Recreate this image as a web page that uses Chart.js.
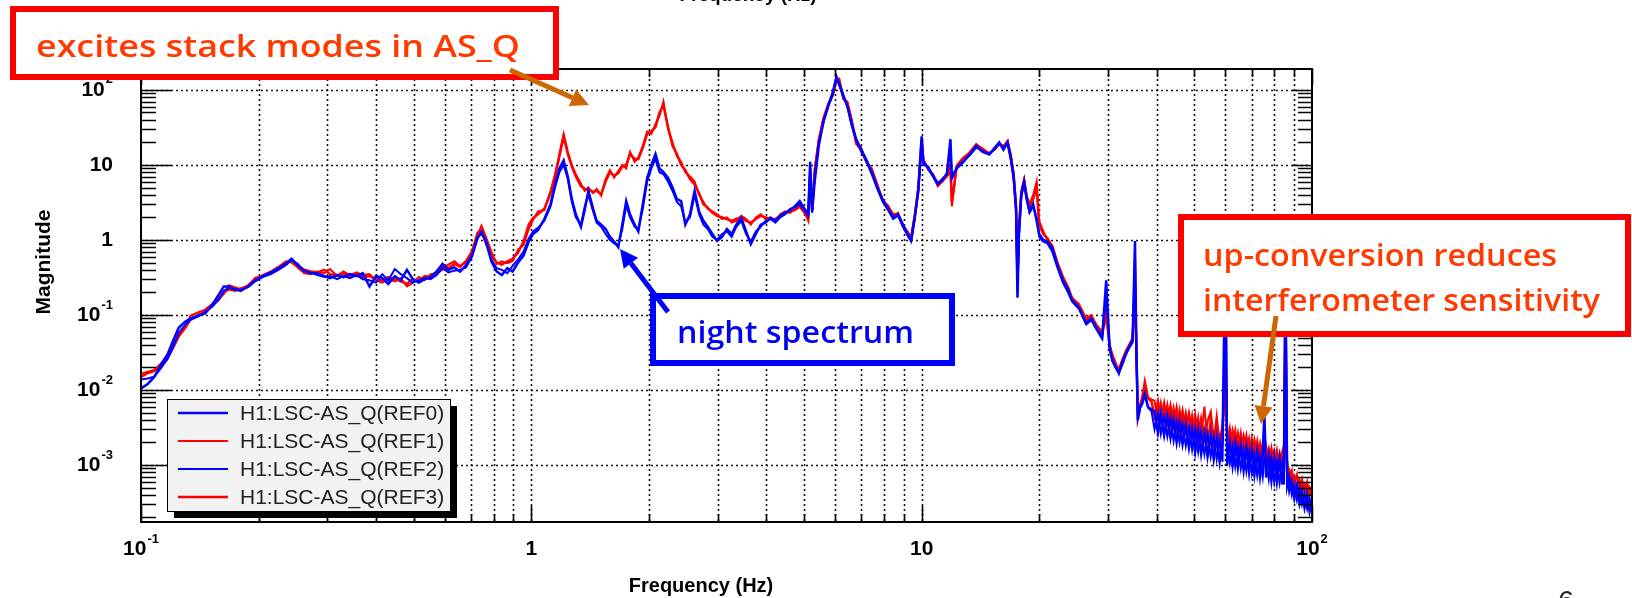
<!DOCTYPE html>
<html>
<head>
<meta charset="utf-8">
<script src="https://cdn.jsdelivr.net/npm/chart.js@4.4.0/dist/chart.umd.min.js"></script>
<style>
  html, body { margin: 0; padding: 0; background: #fff; }
  canvas { display: block; }
</style>
</head>
<body>
<canvas id="spectrum" width="1632" height="598"></canvas>
<script>
// frequency grid (Hz), shared by the four reference traces
const freqHz = [
  0.100, 0.104, 0.108, 0.112, 0.117, 0.121, 0.125, 0.130, 0.134, 0.140,
  0.146, 0.152, 0.158, 0.163, 0.168, 0.174, 0.180, 0.188, 0.196, 0.205,
  0.215, 0.225, 0.235, 0.243, 0.252, 0.262, 0.272, 0.283, 0.295, 0.305,
  0.318, 0.330, 0.343, 0.357, 0.370, 0.385, 0.400, 0.415, 0.430, 0.447,
  0.463, 0.480, 0.497, 0.515, 0.533, 0.552, 0.572, 0.592, 0.613, 0.635,
  0.657, 0.680, 0.705, 0.728, 0.745, 0.765, 0.790, 0.815, 0.840, 0.868,
  0.895, 0.925, 0.955, 0.985,
  1.01, 1.04, 1.08, 1.12, 1.15, 1.18, 1.21, 1.24, 1.27, 1.30,
  1.34, 1.37, 1.40, 1.44, 1.47, 1.51, 1.55, 1.59, 1.63, 1.67,
  1.71, 1.75, 1.79, 1.84, 1.88, 1.93, 1.98, 2.03, 2.08, 2.13,
  2.18, 2.24, 2.30, 2.36, 2.42, 2.48, 2.55, 2.62, 2.69, 2.76,
  2.83, 2.91, 2.99, 3.08, 3.17, 3.26, 3.35, 3.45, 3.55, 3.65,
  3.76, 3.87, 3.98, 4.10, 4.22, 4.34, 4.47, 4.60, 4.73, 4.87,
  5.01, 5.12, 5.18, 5.24, 5.32, 5.45, 5.60, 5.76, 5.92, 6.05,
  6.15, 6.30, 6.45, 6.62, 6.80, 7.00, 7.20, 7.45, 7.70, 7.95,
  8.20, 8.45, 8.70, 8.95, 9.20, 9.40, 9.60, 9.80,
  10.0, 10.1, 10.4, 10.7, 11.0, 11.3, 11.6, 11.85, 11.95, 12.3,
  12.8, 13.3, 13.8, 14.3, 14.9, 15.4, 15.8, 16.2, 16.6, 16.9,
  17.2, 17.45, 17.6, 17.75, 18.0, 18.3, 18.6, 18.9, 19.3, 19.7,
  20.0, 20.5, 21.0, 21.6, 22.3, 23.0, 23.7, 24.3, 25.3, 26.4,
  27.2, 28.0, 29.0, 29.7, 30.3, 30.8, 31.5, 32.0, 32.7, 33.4,
  34.0, 34.7, 35.2, 35.5, 35.8, 36.3, 36.7, 37.3, 38.0, 38.8,
  39.5, 40.3, 41.0, 41.8, 42.6, 43.4, 44.2, 45.0, 45.8, 46.6,
  47.5, 48.4, 49.3, 50.2, 51.1, 52.0, 53.0, 54.0, 55.0, 56.0,
  57.0, 58.0, 59.0, 60.0, 60.6, 61.6, 62.6, 63.6, 64.6, 65.7,
  66.8, 67.9, 69.0, 70.1, 71.2, 72.4, 73.6, 74.8, 75.5, 76.3,
  77.5, 78.7, 80.0, 81.3, 82.6, 83.9, 84.8, 85.5, 86.3, 87.5,
  88.8, 90.1, 91.5, 92.9, 94.3, 95.7, 97.2, 98.6, 100
];

// REF0 (blue, night)
const magREF0 = [
  0.0105, 0.012, 0.0148, 0.021, 0.030, 0.046, 0.068, 0.082, 0.090, 0.098,
  0.105, 0.135, 0.185, 0.24, 0.24, 0.22, 0.21, 0.24, 0.29, 0.33,
  0.37, 0.42, 0.48, 0.56, 0.46, 0.39, 0.36, 0.36, 0.33, 0.31,
  0.34, 0.32, 0.35, 0.33, 0.36, 0.24, 0.33, 0.31, 0.26, 0.33,
  0.29, 0.40, 0.30, 0.27, 0.30, 0.32, 0.38, 0.48, 0.40, 0.43,
  0.38, 0.46, 0.62, 1.05, 1.28, 0.95, 0.52, 0.38, 0.34, 0.42,
  0.38, 0.50, 0.62, 0.95,
  1.20, 1.35, 1.9, 3.0, 5.5, 9.0, 11.5, 7.0, 3.5, 2.2,
  1.5, 2.5, 4.5, 2.6, 1.8, 1.6, 1.4, 1.1, 0.95, 0.80,
  1.6, 3.3, 2.2, 1.6, 1.3, 3.0, 6.7, 10, 14, 9,
  8, 6.7, 5, 3.5, 3.3, 1.6, 2.2, 4.5, 2.4, 1.8,
  1.5, 1.2, 0.97, 1.1, 1.4, 1.2, 1.6, 1.97, 1.3, 0.88,
  1.2, 1.6, 1.7, 1.97, 1.8, 2.1, 2.3, 2.5, 2.8, 3.3,
  2.6, 2.2, 11, 2.4, 6, 18, 38, 60, 90, 150,
  120, 85, 60, 35, 22, 16, 12, 8, 5, 3.4,
  2.6, 2.0, 2.2, 1.6, 1.2, 1.0, 2.0, 4.5,
  24, 11, 9, 7, 5.5, 6.5, 7.5, 22, 7, 9,
  11, 14, 18, 15, 13.8, 17, 20, 16, 20, 13,
  7, 2.6, 0.17, 1.2, 4.1, 6, 3.5, 2.4, 3.0, 1.8,
  1.2, 1.0, 0.95, 0.78, 0.45, 0.29, 0.22, 0.155, 0.125, 0.077,
  0.09, 0.068, 0.05, 0.29, 0.037, 0.025, 0.02, 0.0166, 0.024, 0.031,
  0.038, 0.045, 0.97, 0.03, 0.004, 0.006, 0.0066, 0.009, 0.006, 0.0055,
  0.0052, 0.0027, 0.0048, 0.0025, 0.0044, 0.0023, 0.0040, 0.0020, 0.0037, 0.0019,
  0.0034, 0.0017, 0.0031, 0.0015, 0.0029, 0.0014, 0.0027, 0.0013, 0.0025, 0.0012,
  0.0023, 0.0011, 0.0021, 0.97, 0.0010, 0.0020, 0.00098, 0.0019, 0.00092, 0.0018,
  0.00085, 0.0017, 0.0008, 0.0016, 0.00075, 0.0015, 0.0007, 0.0014, 0.0049, 0.00068,
  0.0013, 0.00062, 0.00125, 0.0006, 0.0012, 0.00055, 0.0011, 0.5, 0.00085, 0.00045,
  0.0006, 0.00036, 0.00052, 0.00031, 0.00045, 0.00027, 0.0004, 0.00024, 0.00032
];

// REF1 (red, day)
const magREF1 = [
  0.0165, 0.0175, 0.0185, 0.022, 0.029, 0.040, 0.055, 0.072, 0.098, 0.108,
  0.118, 0.140, 0.165, 0.19, 0.25, 0.235, 0.22, 0.25, 0.30, 0.34,
  0.38, 0.44, 0.52, 0.50, 0.43, 0.36, 0.35, 0.38, 0.36, 0.41,
  0.33, 0.38, 0.34, 0.37, 0.34, 0.35, 0.29, 0.27, 0.30, 0.28,
  0.31, 0.24, 0.27, 0.32, 0.29, 0.35, 0.36, 0.40, 0.47, 0.52,
  0.45, 0.50, 0.72, 1.15, 1.55, 1.10, 0.70, 0.48, 0.52, 0.49,
  0.52, 0.75, 0.85, 1.40,
  1.85, 2.4, 2.5, 4.5, 7.5, 14, 26, 15, 10, 7.5,
  5.6, 4.5, 5.0, 4.2, 4.8, 3.9, 6.5, 8.5, 6.8, 8.3,
  10, 9, 15, 11, 12.5, 18, 28, 26, 35, 45,
  70, 30, 20, 13, 11, 8, 7, 6, 4.0, 3.2,
  2.6, 2.4, 2.2, 1.9, 2.0, 1.7, 1.8, 2.1, 1.9, 1.6,
  2.0, 2.2, 1.9, 2.0, 1.8, 2.2, 2.4, 2.3, 2.6, 2.9,
  2.4, 1.8, 8, 2.6, 9, 22, 40, 65, 88, 130,
  140, 75, 70, 40, 20, 17, 11, 9, 5.5, 3.3,
  2.9, 2.1, 2.3, 1.5, 1.3, 1.1, 2.2, 5,
  20, 12, 8.5, 7.5, 5.2, 6, 7, 8, 2.8, 9.5,
  12, 15, 19, 16, 14.5, 16, 19, 18, 21, 14,
  8, 3, 0.25, 1.5, 4.5, 6.5, 3.8, 3.0, 4, 6,
  1.8, 1.3, 1.0, 0.85, 0.5, 0.33, 0.24, 0.17, 0.14, 0.09,
  0.1, 0.075, 0.06, 0.12, 0.04, 0.03, 0.022, 0.019, 0.026, 0.034,
  0.04, 0.05, 0.3, 0.035, 0.0045, 0.0065, 0.008, 0.0134, 0.008, 0.0075,
  0.0072, 0.0040, 0.0068, 0.0038, 0.0064, 0.0035, 0.0058, 0.0031, 0.0054, 0.0029,
  0.0050, 0.0027, 0.0046, 0.0024, 0.0043, 0.0022, 0.0060, 0.0021, 0.0039, 0.0020,
  0.0045, 0.0019, 0.0034, 0.02, 0.0018, 0.0031, 0.0017, 0.0029, 0.0016, 0.0027,
  0.0015, 0.0025, 0.0014, 0.0023, 0.0013, 0.0021, 0.0012, 0.0020, 0.0011, 0.0018,
  0.00105, 0.0017, 0.001, 0.0016, 0.00095, 0.0015, 0.0009, 0.3, 0.0012, 0.0007,
  0.00085, 0.00055, 0.00075, 0.00048, 0.00065, 0.00043, 0.0006, 0.00039, 0.00045
];

// REF2 (blue, night)
const magREF2 = [
  0.0138, 0.0142, 0.0150, 0.019, 0.026, 0.038, 0.058, 0.075, 0.086, 0.095,
  0.110, 0.128, 0.160, 0.21, 0.23, 0.22, 0.215, 0.235, 0.28, 0.32,
  0.35, 0.40, 0.46, 0.54, 0.48, 0.38, 0.37, 0.34, 0.32, 0.33,
  0.30, 0.33, 0.31, 0.34, 0.30, 0.29, 0.27, 0.35, 0.29, 0.41,
  0.35, 0.31, 0.27, 0.29, 0.31, 0.30, 0.34, 0.42, 0.37, 0.39,
  0.40, 0.43, 0.60, 1.10, 1.20, 1.00, 0.55, 0.42, 0.40, 0.36,
  0.45, 0.55, 0.70, 1.05,
  1.30, 1.45, 1.8, 2.8, 5.0, 8.0, 10, 6.5, 3.2, 2.0,
  1.6, 2.8, 4.0, 2.4, 1.7, 1.5, 1.2, 1.0, 0.9, 0.85,
  1.4, 2.9, 2.0, 1.5, 1.4, 2.6, 6.0, 9, 12, 8,
  7.5, 6, 4.5, 3.2, 2.8, 1.7, 2.0, 4.0, 2.2, 1.6,
  1.4, 1.1, 1.0, 1.2, 1.3, 1.1, 1.5, 1.8, 1.2, 0.95,
  1.3, 1.5, 1.8, 1.9, 1.7, 2.0, 2.2, 2.6, 2.7, 3.0,
  2.5, 2.1, 9, 2.3, 7, 20, 36, 62, 95, 145,
  115, 80, 62, 33, 21, 15, 11.5, 7.5, 4.8, 3.2,
  2.5, 1.9, 2.1, 1.5, 1.15, 0.95, 1.9, 4.2,
  18, 10, 9.5, 7.2, 5.8, 6.2, 7.8, 15, 6.5, 9.2,
  11.5, 13.5, 17, 15.5, 14, 16.5, 19, 17, 19, 12,
  6.5, 2.4, 0.2, 1.1, 3.8, 5.5, 3.3, 2.3, 2.8, 2.0,
  1.1, 0.95, 0.9, 0.7, 0.42, 0.27, 0.2, 0.15, 0.12, 0.075,
  0.085, 0.065, 0.048, 0.2, 0.035, 0.024, 0.019, 0.017, 0.022, 0.03,
  0.036, 0.043, 0.6, 0.028, 0.0042, 0.0058, 0.0064, 0.0085, 0.0058, 0.0052,
  0.0030, 0.0050, 0.0026, 0.0046, 0.0024, 0.0042, 0.0021, 0.0038, 0.0020, 0.0035,
  0.0018, 0.0032, 0.0016, 0.0030, 0.0015, 0.0028, 0.0014, 0.0026, 0.0013, 0.0024,
  0.0012, 0.0022, 0.0011, 0.5, 0.0019, 0.00105, 0.0018, 0.00095, 0.0017, 0.0009,
  0.0016, 0.00082, 0.0015, 0.00078, 0.0014, 0.00072, 0.0013, 0.0007, 0.0012, 0.0012,
  0.00065, 0.0012, 0.0006, 0.0011, 0.00058, 0.00105, 0.00055, 0.3, 0.0005, 0.0007,
  0.0004, 0.00055, 0.00034, 0.00048, 0.0003, 0.00042, 0.00026, 0.00036, 0.00028
];

// REF3 (red, day)
const magREF3 = [
  0.015, 0.0168, 0.0178, 0.021, 0.027, 0.037, 0.052, 0.068, 0.088, 0.100,
  0.112, 0.135, 0.158, 0.20, 0.22, 0.21, 0.225, 0.24, 0.31, 0.33,
  0.36, 0.41, 0.50, 0.55, 0.45, 0.40, 0.38, 0.37, 0.40, 0.35,
  0.34, 0.36, 0.33, 0.35, 0.32, 0.33, 0.30, 0.29, 0.32, 0.30,
  0.28, 0.26, 0.30, 0.28, 0.33, 0.32, 0.37, 0.45, 0.42, 0.48,
  0.44, 0.52, 0.70, 1.25, 1.35, 0.90, 0.62, 0.50, 0.47, 0.52,
  0.56, 0.68, 0.95, 1.60,
  1.95, 2.2, 2.6, 4.2, 7.0, 13, 24, 14, 9.5, 7.0,
  5.2, 4.8, 4.6, 4.4, 4.5, 4.1, 6.0, 8.0, 7.2, 7.8,
  9.5, 10, 14, 12, 12, 17, 26, 28, 32, 50,
  62, 32, 18, 14, 10, 8.5, 6.5, 5.5, 4.2, 3.0,
  2.7, 2.3, 2.1, 2.0, 1.9, 1.8, 1.9, 2.0, 1.8, 1.7,
  1.9, 2.1, 2.0, 1.9, 1.9, 2.1, 2.3, 2.4, 2.5, 2.8,
  2.3, 1.9, 7, 2.5, 8, 21, 42, 63, 85, 135,
  135, 78, 68, 38, 19, 16, 11.5, 8.5, 5.2, 3.4,
  2.8, 2.2, 2.2, 1.6, 1.25, 1.05, 2.1, 4.8,
  22, 11.5, 8.8, 7.3, 5.4, 6.2, 7.2, 10, 3.2, 9.8,
  12.5, 14.5, 18.5, 16.5, 14, 16.5, 19.5, 17, 20.5, 13.5,
  7.5, 2.8, 0.3, 1.4, 4.3, 6.2, 3.6, 2.8, 3.5, 5,
  1.6, 1.2, 1.05, 0.82, 0.48, 0.31, 0.23, 0.16, 0.13, 0.085,
  0.095, 0.072, 0.055, 0.1, 0.039, 0.028, 0.021, 0.018, 0.025, 0.032,
  0.039, 0.048, 0.2, 0.033, 0.0043, 0.0062, 0.0075, 0.011, 0.0078, 0.007,
  0.0045, 0.0070, 0.0041, 0.0066, 0.0037, 0.0061, 0.0034, 0.0057, 0.0031, 0.0052,
  0.0029, 0.0048, 0.0026, 0.0045, 0.0024, 0.0041, 0.0023, 0.0038, 0.0050, 0.0021,
  0.0035, 0.0020, 0.0033, 0.01, 0.0030, 0.0018, 0.0028, 0.0017, 0.0026, 0.0016,
  0.0024, 0.0015, 0.0022, 0.0014, 0.0021, 0.0013, 0.0019, 0.0012, 0.0017, 0.0011,
  0.0016, 0.00105, 0.0015, 0.001, 0.0014, 0.00095, 0.0013, 0.15, 0.00095, 0.00085,
  0.0006, 0.0007, 0.0005, 0.00062, 0.00046, 0.00055, 0.00042, 0.0005, 0.00042
];

const seriesLabels = ['H1:LSC-AS_Q(REF0)', 'H1:LSC-AS_Q(REF1)', 'H1:LSC-AS_Q(REF2)', 'H1:LSC-AS_Q(REF3)'];
const xTickExps = [-1, 0, 1, 2];          // 10^-1 .. 10^2 Hz
const yTickExps = [-3, -2, -1, 0, 1, 2];  // 10^-3 .. 10^2

function toPoints(ys) {
  return freqHz.map((f, i) => ({ x: f, y: ys[i] }));
}

function logTicks(min, max) {
  const out = [];
  for (let e = Math.floor(Math.log10(min)); e <= Math.ceil(Math.log10(max)); e++) {
    for (let m = 1; m <= 9; m++) {
      const v = m * Math.pow(10, e);
      if (v >= min * 0.999 && v <= max * 1.001) out.push({ value: v, major: m === 1 });
    }
  }
  return out;
}

const LABEL_FONT = '"Liberation Sans", Arial, sans-serif';

// "10" with a raised exponent, the way ROOT prints log axis labels
function drawPow(ctx, e, x, y, align) {
  const base = e === 0 ? '1' : '10';
  const sup = (e === 0 || e === 1) ? '' : String(e);
  ctx.font = 'bold 21px ' + LABEL_FONT;
  const wb = ctx.measureText(base).width;
  ctx.font = 'bold 13px ' + LABEL_FONT;
  const ws = sup ? ctx.measureText(sup).width + 1 : 0;
  const total = wb + ws;
  let x0 = align === 'right' ? x - total : x - total / 2;
  ctx.textAlign = 'left';
  ctx.textBaseline = 'middle';
  ctx.font = 'bold 21px ' + LABEL_FONT;
  ctx.fillText(base, x0, y);
  if (sup) {
    ctx.font = 'bold 13px ' + LABEL_FONT;
    ctx.fillText(sup, x0 + wb + 1, y - 10);
  }
}

function fitText(ctx, text, x, baseline, width, font, color) {
  ctx.save();
  ctx.font = font;
  ctx.fillStyle = color;
  ctx.textAlign = 'left';
  ctx.textBaseline = 'alphabetic';
  const w = ctx.measureText(text).width;
  ctx.translate(x, baseline);
  ctx.scale(width / w, 1);
  ctx.fillText(text, 0, 0);
  ctx.restore();
}

function noteBox(ctx, x0, y0, x1, y1, color, lw) {
  ctx.fillStyle = '#fff';
  ctx.fillRect(x0, y0, x1 - x0, y1 - y0);
  ctx.strokeStyle = color;
  ctx.lineWidth = lw;
  ctx.setLineDash([]);
  ctx.strokeRect(x0 + lw / 2, y0 + lw / 2, x1 - x0 - lw, y1 - y0 - lw);
}

function arrow(ctx, x0, y0, x1, y1, color, lw, head) {
  const ang = Math.atan2(y1 - y0, x1 - x0);
  const bx = x1 - Math.cos(ang) * head, by = y1 - Math.sin(ang) * head;
  ctx.strokeStyle = color;
  ctx.fillStyle = color;
  ctx.lineWidth = lw;
  ctx.setLineDash([]);
  ctx.beginPath();
  ctx.moveTo(x0, y0);
  ctx.lineTo(bx, by);
  ctx.stroke();
  const hw = head * 0.5;
  ctx.beginPath();
  ctx.moveTo(x1, y1);
  ctx.lineTo(bx + Math.sin(ang) * hw, by - Math.cos(ang) * hw);
  ctx.lineTo(bx - Math.sin(ang) * hw, by + Math.cos(ang) * hw);
  ctx.closePath();
  ctx.fill();
}

const rootFrame = {
  id: 'rootFrame',
  beforeDatasetsDraw(chart) {
    const { ctx, chartArea: a, scales: { x, y } } = chart;
    ctx.save();
    ctx.strokeStyle = '#111';
    ctx.lineWidth = 1.6;
    ctx.setLineDash([2, 3]);
    ctx.beginPath();
    logTicks(x.min, x.max).forEach(t => {
      if (t.value <= x.min * 1.001 || t.value >= x.max * 0.999) return;
      const px = Math.round(x.getPixelForValue(t.value)) + 0.5;
      ctx.moveTo(px, a.top);
      ctx.lineTo(px, a.bottom);
    });
    logTicks(y.min, y.max).filter(t => t.major).forEach(t => {
      const py = Math.round(y.getPixelForValue(t.value)) + 0.5;
      ctx.moveTo(a.left, py);
      ctx.lineTo(a.right, py);
    });
    ctx.stroke();
    ctx.restore();
  },
  afterDatasetsDraw(chart) {
    const { ctx, chartArea: a, scales: { x, y } } = chart;
    ctx.save();
    ctx.setLineDash([]);
    ctx.strokeStyle = '#000';
    ctx.lineWidth = 2;
    ctx.strokeRect(a.left, a.top, a.right - a.left, a.bottom - a.top);

    // inside tick marks on all four sides
    ctx.lineWidth = 1.6;
    ctx.beginPath();
    logTicks(x.min, x.max).forEach(t => {
      const px = Math.round(x.getPixelForValue(t.value)) + 0.5;
      const len = t.major ? 16 : 8;
      ctx.moveTo(px, a.bottom); ctx.lineTo(px, a.bottom - len);
      ctx.moveTo(px, a.top); ctx.lineTo(px, a.top + len);
    });
    logTicks(y.min, y.max).forEach(t => {
      const py = Math.round(y.getPixelForValue(t.value)) + 0.5;
      ctx.moveTo(a.left, py); ctx.lineTo(a.left + (t.major ? 30 : 15), py);
      ctx.moveTo(a.right, py); ctx.lineTo(a.right - (t.major ? 20 : 14), py);
    });
    ctx.stroke();

    // tick labels
    ctx.fillStyle = '#000';
    yTickExps.forEach(e => drawPow(ctx, e, 113, y.getPixelForValue(Math.pow(10, e)), 'right'));
    xTickExps.forEach(e => drawPow(ctx, e, x.getPixelForValue(Math.pow(10, e)), 549, 'center'));

    // axis titles
    ctx.font = 'bold 20px ' + LABEL_FONT;
    ctx.textAlign = 'center';
    ctx.textBaseline = 'middle';
    ctx.fillText('Frequency (Hz)', 701, 586);
    ctx.textBaseline = 'alphabetic';
    ctx.font = 'bold 19px ' + LABEL_FONT;
    ctx.fillText('Frequency (Hz)', 748, 1);
    ctx.save();
    ctx.translate(44, 262);
    ctx.rotate(-Math.PI / 2);
    ctx.font = 'bold 21px ' + LABEL_FONT;
    ctx.textBaseline = 'middle';
    ctx.fillText('Magnitude', 0, 0);
    ctx.restore();

    // legend with drop shadow
    const lx = 167, ly = 399, lw = 283, lh = 112;
    ctx.fillStyle = '#000';
    ctx.fillRect(lx + 7, ly + 7, lw, lh);
    ctx.fillStyle = '#f2f2f2';
    ctx.fillRect(lx, ly, lw, lh);
    ctx.strokeStyle = '#000';
    ctx.lineWidth = 1;
    ctx.strokeRect(lx + 0.5, ly + 0.5, lw, lh);
    chart.data.datasets.forEach((ds, i) => {
      const ry = 413 + i * 28;
      ctx.strokeStyle = ds.borderColor;
      ctx.lineWidth = ds.borderWidth;
      ctx.beginPath();
      ctx.moveTo(178, ry);
      ctx.lineTo(228, ry);
      ctx.stroke();
      ctx.fillStyle = '#222';
      ctx.font = '21px ' + LABEL_FONT;
      ctx.textAlign = 'left';
      ctx.textBaseline = 'middle';
      ctx.fillText(ds.label, 240, ry + 1);
    });
    ctx.restore();
  },
  afterDraw(chart) {
    const ctx = chart.ctx;
    const noteFont = '600 31px "Open Sans", "Noto Sans", sans-serif';
    ctx.save();
    noteBox(ctx, 10, 6, 559, 80, '#ff0000', 6);
    fitText(ctx, 'excites stack modes in AS_Q', 36, 57, 484, noteFont, '#ff3a00');
    arrow(ctx, 510, 70, 589, 105, '#cc6600', 5, 18);

    noteBox(ctx, 650, 293, 955, 366, '#0000ff', 6);
    fitText(ctx, 'night spectrum', 677, 343, 237, noteFont, '#0000ee');
    arrow(ctx, 668, 312, 620, 249, '#0000ff', 5, 18);

    noteBox(ctx, 1178, 214, 1631, 337, '#ff0000', 6);
    fitText(ctx, 'up-conversion reduces', 1203, 266, 354, noteFont, '#ff3a00');
    fitText(ctx, 'interferometer sensitivity', 1203, 311, 397, noteFont, '#ff3a00');
    arrow(ctx, 1276, 316, 1261, 424, '#cc6600', 5, 18);

    ctx.fillStyle = '#222';
    ctx.font = '28px ' + LABEL_FONT;
    ctx.textAlign = 'center';
    ctx.textBaseline = 'top';
    ctx.fillText('6', 1566, 588);
    ctx.restore();
  }
};

const seriesColors = ['#0000ff', '#ff0000', '#0000ff', '#ff0000'];
const seriesWidths = [2.5, 2, 2, 2.5];
const seriesOrder = [0, 2, 1, 3];
const seriesData = [magREF0, magREF1, magREF2, magREF3];

new Chart(document.getElementById('spectrum'), {
  type: 'line',
  data: {
    datasets: seriesData.map((ys, i) => ({
      label: seriesLabels[i],
      data: toPoints(ys),
      borderColor: seriesColors[i],
      borderWidth: seriesWidths[i],
      pointRadius: 0,
      tension: 0,
      fill: false,
      order: seriesOrder[i]
    }))
  },
  options: {
    responsive: false,
    animation: false,
    layout: { padding: { left: 141, right: 320, top: 69, bottom: 76 } },
    plugins: {
      legend: { display: false },
      tooltip: { enabled: false },
      title: { display: false }
    },
    scales: {
      x: { type: 'logarithmic', min: 0.1, max: 100, display: false },
      y: { type: 'logarithmic', min: 1.74e-4, max: 190, display: false }
    }
  },
  plugins: [rootFrame]
});
</script>
</body>
</html>
